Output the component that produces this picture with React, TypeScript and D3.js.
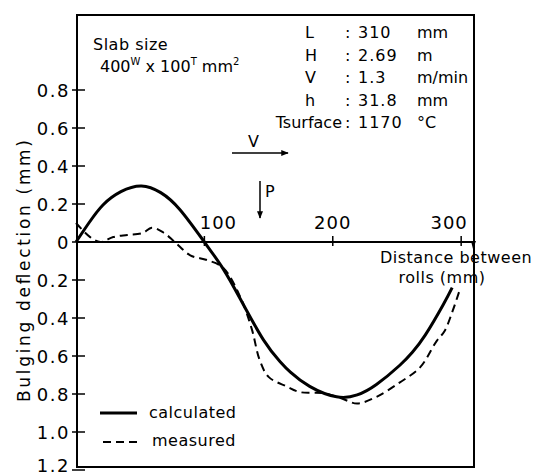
import React from "react";
import * as d3 from "d3";

const calcX = [0, 10, 21, 35, 51, 66, 81, 100, 114.5, 128, 146, 159, 167, 182, 203, 219, 234, 252, 262, 272, 286, 293];
const calcY = [0, 0.1, 0.195, 0.265, 0.295, 0.26, 0.17, 0, -0.14, -0.3, -0.515, -0.63, -0.685, -0.76, -0.815, -0.805, -0.75, -0.65, -0.58, -0.49, -0.33, -0.24];

const measX = [0, 11, 19, 29, 40, 52, 59, 68, 77, 89, 102, 114.5, 128, 137, 143, 150, 164, 174.5, 192, 205.6, 219, 234, 252, 268, 281, 287, 293.5, 299];
const measY = [0.1, 0.026, 0, 0.026, 0.037, 0.047, 0.075, 0.05, 0, -0.07, -0.095, -0.135, -0.29, -0.46, -0.62, -0.71, -0.76, -0.79, -0.795, -0.82, -0.85, -0.815, -0.74, -0.66, -0.52, -0.47, -0.36, -0.25];

const yTickValues = [0.8, 0.6, 0.4, 0.2, 0, -0.2, -0.4, -0.6, -0.8, -1.0, -1.2];
const yTickLabels = ["0.8", "0.6", "0.4", "0.2", "0", "0.2", "0.4", "0.6", "0.8", "1.0", "1.2"];
const xTickValues = [100, 200, 300];
const xTickLabels = ["100", "200", "300"];
const xLabelShift = [14, 0, -12];

const paramNames = ["L", "H", "V", "h", "Tsurface"];
const paramValues = ["310", "2.69", "1.3", "31.8", "1170"];
const paramUnits = ["mm", "m", "m/min", "mm", "°C"];

const FONT = "'DejaVu Sans', sans-serif";

export default function App() {
  const x = d3.scaleLinear().domain([0, 310]).range([76, 474]);
  const y = d3.scaleLinear().domain([0, 1]).range([242, 52]);
  const frame = { left: 77, top: 15, right: 474, bottom: 467 };

  const calcLine = d3
    .line<[number, number]>()
    .x((d) => x(d[0]))
    .y((d) => y(d[1]))
    .curve(d3.curveNatural);
  const measLine = d3
    .line<[number, number]>()
    .x((d) => x(d[0]))
    .y((d) => y(d[1]))
    .curve(d3.curveCatmullRom.alpha(0.5));

  const calc = calcX.map((v, i) => [v, calcY[i]] as [number, number]);
  const meas = measX.map((v, i) => [v, measY[i]] as [number, number]);

  return (
    <svg
      width={552}
      height={475}
      style={{ position: "absolute", left: 0, top: 0, background: "#fff" }}
      fontFamily={FONT}
    >
      <defs>
        <marker id="arr" viewBox="0 0 10 10" refX="9" refY="5" markerWidth="5" markerHeight="5" orient="auto">
          <path d="M0,1 L10,5 L0,9 Z" fill="#000" />
        </marker>
      </defs>
      <rect x={0} y={0} width={552} height={475} fill="#fff" />
      <rect
        x={frame.left}
        y={frame.top}
        width={frame.right - frame.left}
        height={frame.bottom - frame.top}
        fill="none"
        stroke="#000"
        strokeWidth={2}
      />
      <line x1={frame.left} x2={frame.right} y1={y(0)} y2={y(0)} stroke="#000" strokeWidth={2} />
      <path d={`M${frame.right - 3},${y(0) - 1} L${frame.right + 2},${y(0) - 1} L${frame.right - 1},${y(0) + 7} Z`} fill="#000" />
      {xTickValues.map((v, i) => (
        <g key={v}>
          <line x1={x(v)} x2={x(v)} y1={y(0) - 6} y2={y(0) + 4} stroke="#000" strokeWidth={1.5} />
          <text x={x(v) + xLabelShift[i]} y={y(0) - 13} fontSize={18} textAnchor="middle" letterSpacing={1}>
            {xTickLabels[i]}
          </text>
        </g>
      ))}
      {yTickValues.map((v, i) => (
        <g key={i}>
          <line x1={frame.left - 5} x2={frame.left + 8} y1={y(v)} y2={y(v)} stroke="#000" strokeWidth={1.5} />
          <text x={70} y={Math.min(y(v) + 7, 472)} fontSize={18} textAnchor="end" letterSpacing={1.5}>
            {yTickLabels[i]}
          </text>
        </g>
      ))}
      <text
        transform={`translate(30,271) rotate(-90)`}
        fontSize={17}
        textAnchor="middle"
        textLength={262}
        lengthAdjust="spacing"
      >
        Bulging deflection (mm)
      </text>
      <text x={456} y={263} fontSize={16} textAnchor="middle" letterSpacing={0.5}>
        Distance between
      </text>
      <text x={442} y={283} fontSize={16} textAnchor="middle" letterSpacing={0.5}>
        rolls (mm)
      </text>
      <path d={calcLine(calc) || ""} fill="none" stroke="#000" strokeWidth={3} />
      <path d={measLine(meas) || ""} fill="none" stroke="#000" strokeWidth={2} strokeDasharray="8,5" />
      <text x={93} y={50} fontSize={16} letterSpacing={0.5}>
        Slab size
      </text>
      <text x={100} y={72} fontSize={16}>
        400<tspan fontSize={10} dy={-7}>W</tspan>
        <tspan dy={7}> x 100</tspan>
        <tspan fontSize={10} dy={-7}>T</tspan>
        <tspan dy={7}> mm</tspan>
        <tspan fontSize={10} dy={-7}>2</tspan>
      </text>
      {paramNames.map((n, i) => (
        <g key={n} fontSize={16}>
          <text x={i < 4 ? 305 : 342} y={38 + i * 22.5} textAnchor={i < 4 ? "start" : "end"}>
            {n}
          </text>
          <text x={345} y={38 + i * 22.5}>:</text>
          <text x={358} y={38 + i * 22.5} letterSpacing={1}>{paramValues[i]}</text>
          <text x={417} y={38 + i * 22.5}>{paramUnits[i]}</text>
        </g>
      ))}
      <line x1={232} x2={288} y1={153} y2={153} stroke="#000" strokeWidth={1.5} markerEnd="url(#arr)" />
      <text x={248} y={147} fontSize={16}>V</text>
      <line x1={260} x2={260} y1={181} y2={218} stroke="#000" strokeWidth={1.5} markerEnd="url(#arr)" />
      <text x={265} y={197} fontSize={16}>P</text>
      <line x1={100} x2={137} y1={413} y2={413} stroke="#000" strokeWidth={3} />
      <text x={149} y={418} fontSize={16} letterSpacing={0.5}>calculated</text>
      <line x1={103} x2={137} y1={442} y2={442} stroke="#000" strokeWidth={2} strokeDasharray="8,5" />
      <text x={152} y={446} fontSize={16} letterSpacing={0.5}>measured</text>
    </svg>
  );
}
